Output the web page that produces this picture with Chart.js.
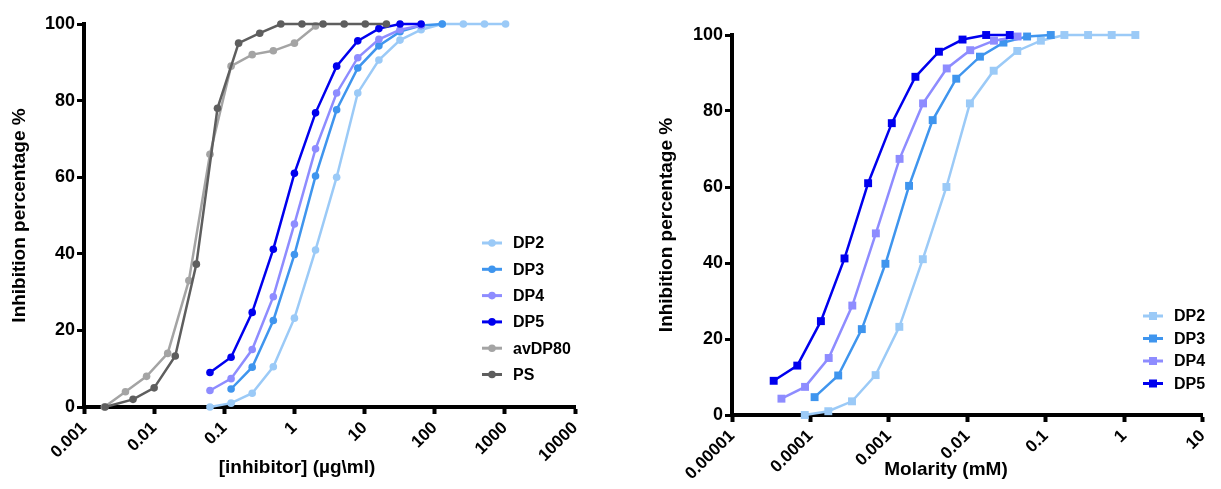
<!DOCTYPE html>
<html>
<head>
<meta charset="utf-8">
<script src="https://cdn.jsdelivr.net/npm/chart.js@4.4.1/dist/chart.umd.min.js"></script>
<style>
  html, body { margin: 0; padding: 0; background: #fff; }
  #wrap { position: relative; width: 1221px; height: 489px; }
  .box { position: absolute; top: 0; height: 489px; }
</style>
</head>
<body>
<div id="wrap">
  <div class="box" style="left:0;width:615px"><canvas id="left"></canvas></div>
  <div class="box" style="left:615px;width:606px"><canvas id="right"></canvas></div>
</div>
<script>
// ---- data ----
const seriesNames = ['DP2', 'DP3', 'DP4', 'DP5', 'avDP80', 'PS'];
const seriesColors = ['#9bcaf7', '#3f95ee', '#8e8cff', '#0000ee', '#a4a4a4', '#5e5e5e'];

// left panel: concentration in µg/ml
const dp2Conc = [0.0625, 0.125, 0.25, 0.5, 1, 2, 4, 8, 16, 32, 64, 128, 256, 512, 1024];
const dp3Conc = [0.125, 0.25, 0.5, 1, 2, 4, 8, 16, 32, 64, 128];
const dp4Conc = [0.0625, 0.125, 0.25, 0.5, 1, 2, 4, 8, 16, 32, 64];
const dp5Conc = [0.0625, 0.125, 0.25, 0.5, 1, 2, 4, 8, 16, 32, 64];
const avdp80Conc = [0.00195, 0.0039, 0.0078, 0.0156, 0.03125, 0.0625, 0.125, 0.25, 0.5, 1, 2];
const psConc = [0.002, 0.005, 0.01, 0.02, 0.04, 0.08, 0.16, 0.32, 0.64, 1.28, 2.56, 5.12, 10.24, 20.48];

// right panel: molarity in mM
const dp2Mol = [0.0000847, 0.000169, 0.000339, 0.000678, 0.00136, 0.00271, 0.00542, 0.0108, 0.0217, 0.0434, 0.0867, 0.173, 0.347, 0.694, 1.39];
const dp3Mol = [0.000113, 0.000226, 0.000452, 0.000904, 0.00181, 0.00362, 0.00723, 0.0145, 0.0289, 0.0579, 0.116];
const dp4Mol = [0.0000427, 0.0000854, 0.000171, 0.000342, 0.000683, 0.00137, 0.00273, 0.00547, 0.0109, 0.0219, 0.0437];
const dp5Mol = [0.000034, 0.000068, 0.000136, 0.000272, 0.000544, 0.00109, 0.00218, 0.00435, 0.0087, 0.0174, 0.0348];

// inhibition % (same measurements in both panels)
const dp2Inh = [0, 1, 3.6, 10.5, 23.2, 41, 60, 82, 90.6, 95.8, 98.5, 100, 100, 100, 100];
const dp3Inh = [4.7, 10.4, 22.6, 39.8, 60.3, 77.6, 88.5, 94.3, 98, 99.6, 100];
const dp4Inh = [4.3, 7.4, 15, 28.8, 47.8, 67.4, 82, 91.2, 96, 98.5, 99.6];
const dp5Inh = [9, 13, 24.7, 41.2, 61, 76.8, 89, 95.6, 98.8, 100, 100];
const avdp80Inh = [0, 4, 8, 14, 33, 66, 89, 92, 93, 95, 99.5];
const psInh = [0, 2, 5, 13.3, 37.3, 78, 95, 97.6, 100, 100, 100, 100, 100, 100];

const leftTicks = [0.001, 0.01, 0.1, 1, 10, 100, 1000, 10000];
const leftTickLabels = ['0.001', '0.01', '0.1', '1', '10', '100', '1000', '10000'];
const rightTicks = [0.00001, 0.0001, 0.001, 0.01, 0.1, 1, 10];
const rightTickLabels = ['0.00001', '0.0001', '0.001', '0.01', '0.1', '1', '10'];
const yTicks = [0, 20, 40, 60, 80, 100];

const FONT = '"Liberation Sans", Arial, Helvetica, sans-serif';

function pts(xs, ys) {
  return xs.map((x, i) => ({ x: x, y: ys[i] }));
}

function makeSets(pairs, style, radius) {
  return pairs.map((p, i) => ({
    label: seriesNames[i],
    data: pts(p[0], p[1]),
    borderColor: seriesColors[i],
    backgroundColor: seriesColors[i],
    pointBackgroundColor: seriesColors[i],
    pointBorderColor: seriesColors[i],
    pointBorderWidth: 0,
    pointStyle: style,
    pointRadius: radius,
    borderWidth: 2.5,
    tension: 0,
    clip: false,
    order: 10 - i
  }));
}

// draws legend and x axis title
const extras = {
  id: 'extras',
  afterDraw(chart, args, o) {
    const ctx = chart.ctx;
    ctx.save();
    ctx.fillStyle = '#000';
    ctx.font = 'bold 19px ' + FONT;
    ctx.textAlign = 'center';
    ctx.textBaseline = 'middle';
    ctx.fillText(o.xTitle, o.xTitleX, o.xTitleY);

    ctx.font = 'bold 16px ' + FONT;
    ctx.textAlign = 'left';
    chart.data.datasets.forEach((ds, i) => {
      const y = o.legendY + i * o.legendGap;
      const x = o.legendX;
      ctx.strokeStyle = ds.borderColor;
      ctx.lineWidth = 3;
      ctx.beginPath();
      ctx.moveTo(x, y);
      ctx.lineTo(x + 20, y);
      ctx.stroke();
      ctx.fillStyle = ds.borderColor;
      if (ds.pointStyle === 'rect') {
        ctx.fillRect(x + 6, y - 4, 8, 8);
      } else {
        ctx.beginPath();
        ctx.arc(x + 10, y, 3.8, 0, Math.PI * 2);
        ctx.fill();
      }
      ctx.fillStyle = '#000';
      ctx.fillText(ds.label, x + 31, y + 1);
    });
    ctx.restore();
  }
};

function options(cfg) {
  return {
    responsive: true,
    maintainAspectRatio: false,
    animation: false,
    layout: { padding: cfg.padding },
    plugins: {
      legend: { display: false },
      tooltip: { enabled: false },
      extras: cfg.extras
    },
    scales: {
      x: {
        type: 'logarithmic',
        min: cfg.ticks[0],
        max: cfg.ticks[cfg.ticks.length - 1],
        afterBuildTicks: s => { s.ticks = cfg.ticks.map(v => ({ value: v })); },
        afterFit: s => { s.height = cfg.xHeight; },
        ticks: {
          autoSkip: false,
          minRotation: 45,
          maxRotation: 45,
          padding: 4,
          color: '#000',
          font: { family: FONT, size: 17, weight: 'bold' },
          callback: (v, i) => cfg.labels[i]
        },
        grid: { display: true, drawOnChartArea: false, drawTicks: true, tickLength: 7, tickWidth: 4, tickColor: '#000' },
        border: { display: true, color: '#000', width: 4 }
      },
      y: {
        min: 0,
        max: 100,
        afterBuildTicks: s => { s.ticks = yTicks.map(v => ({ value: v })); },
        afterFit: s => { s.width = cfg.yWidth; },
        ticks: {
          padding: 2,
          color: '#000',
          font: { family: FONT, size: 18, weight: 'bold' }
        },
        grid: { display: true, drawOnChartArea: false, drawTicks: true, tickLength: 7, tickWidth: 3, tickColor: '#000' },
        border: { display: true, color: '#000', width: 4 },
        title: {
          display: true,
          text: 'Inhibition percentage %',
          color: '#000',
          font: { family: FONT, size: 19, weight: 'bold' },
          padding: { top: cfg.yTitlePad, bottom: 0 }
        }
      }
    }
  };
}

new Chart(document.getElementById('left'), {
  type: 'line',
  data: {
    datasets: makeSets([
      [dp2Conc, dp2Inh], [dp3Conc, dp3Inh], [dp4Conc, dp4Inh],
      [dp5Conc, dp5Inh], [avdp80Conc, avdp80Inh], [psConc, psInh]
    ], 'circle', 3.8)
  },
  options: options({
    padding: { left: 0, top: 24, right: 40, bottom: 0 },
    ticks: leftTicks,
    labels: leftTickLabels,
    xHeight: 82,
    yWidth: 84,
    yTitlePad: 8,
    extras: { xTitle: '[inhibitor] (\u00b5g\\ml)', xTitleX: 297, xTitleY: 468, legendX: 482, legendY: 243, legendGap: 26.3 }
  }),
  plugins: [extras]
});

new Chart(document.getElementById('right'), {
  type: 'line',
  data: {
    datasets: makeSets([
      [dp2Mol, dp2Inh], [dp3Mol, dp3Inh], [dp4Mol, dp4Inh], [dp5Mol, dp5Inh]
    ], 'rect', 5.6)
  },
  options: options({
    padding: { left: 36, top: 35, right: 4, bottom: 0 },
    ticks: rightTicks,
    labels: rightTickLabels,
    xHeight: 74,
    yWidth: 81,
    yTitlePad: 4,
    extras: { xTitle: 'Molarity (mM)', xTitleX: 331, xTitleY: 470, legendX: 528, legendY: 316, legendGap: 22.5 }
  }),
  plugins: [extras]
});
</script>
</body>
</html>
